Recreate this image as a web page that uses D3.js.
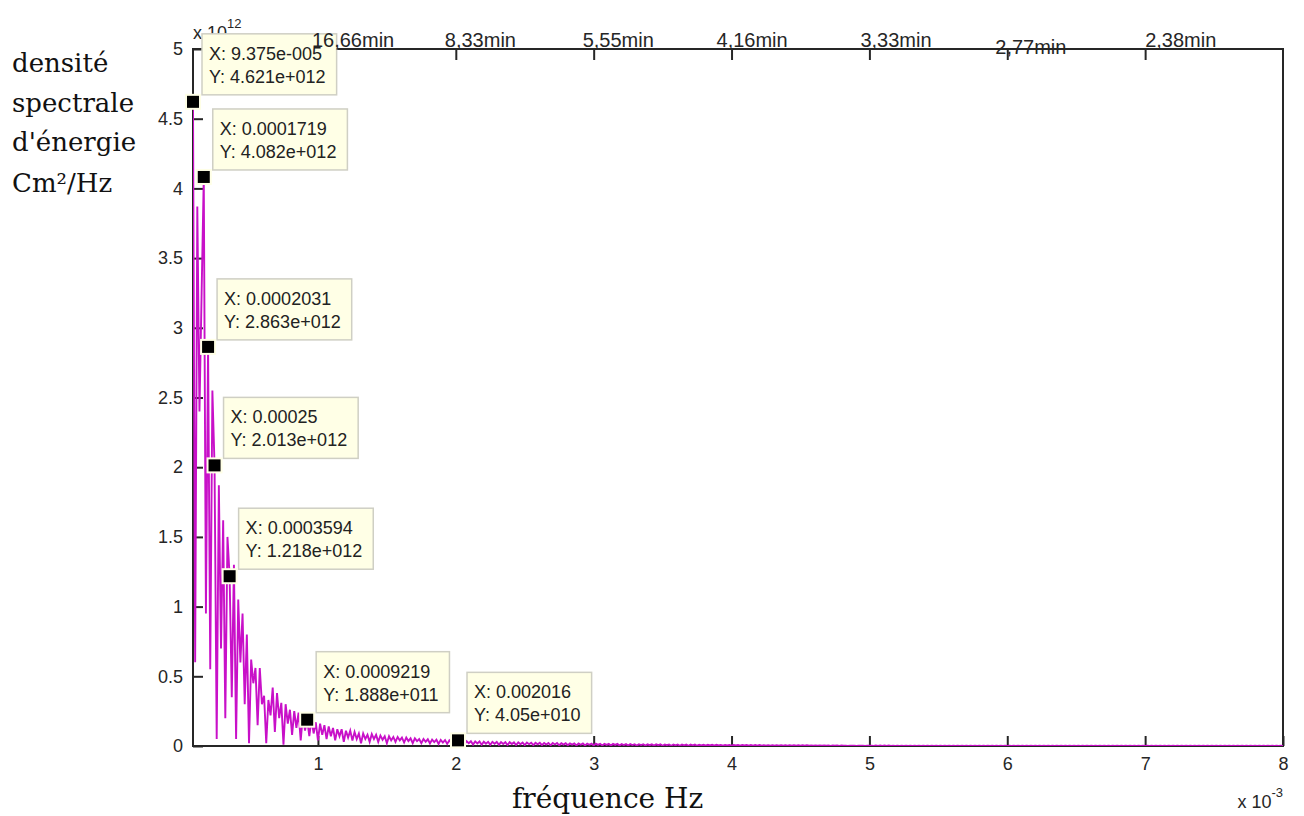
<!DOCTYPE html>
<html>
<head>
<meta charset="utf-8">
<script src="https://cdn.jsdelivr.net/npm/d3@7"></script>
<style>
    body { margin: 0; background: #fff; }
    svg { display: block; }
</style>
</head>
<body>
<div id="chart"></div>
<script>
(() => {
    // spectre : premier bin affiché = 6, pas de 1.5625e-5 Hz, valeurs en 1e12 Cm²/Hz
    let firstBin = 6;
    let binWidth = 1.5625e-5;
    let dse = [
        4.621, 0.60, 3.87, 2.40, 3.25, 4.082, 0.95, 2.863, 0.55, 2.55,
        2.013, 0.05, 1.87, 0.70, 1.62, 0.20, 1.50, 1.218, 0.35, 1.30,
        0.05, 1.05, 0.60, 0.95, 0.30, 0.80, 0.02, 0.62, 0.45, 0.56,
        0.15, 0.56, 0.30, 0.36, 0.02, 0.33, 0.22, 0.42, 0.10, 0.38,
        0.20, 0.31, 0.01, 0.30, 0.16, 0.26, 0.08, 0.25, 0.13, 0.24,
        0.04, 0.22, 0.11, 0.1888, 0.07, 0.19, 0.09, 0.17, 0.04, 0.16,
        0.08, 0.15, 0.05, 0.14, 0.07, 0.13, 0.04, 0.12, 0.07, 0.12,
        0.03, 0.11, 0.06, 0.11, 0.04, 0.10, 0.05, 0.09, 0.02, 0.09,
        0.05, 0.08, 0.03, 0.085, 0.05, 0.08, 0.03, 0.075, 0.045, 0.07,
        0.02, 0.07, 0.04, 0.065, 0.03, 0.065, 0.04, 0.06, 0.025, 0.06,
        0.035, 0.055, 0.02, 0.055, 0.035, 0.05, 0.02, 0.05, 0.03, 0.048,
        0.018, 0.046, 0.028, 0.045, 0.015, 0.044, 0.025, 0.042, 0.015, 0.041,
        0.022, 0.04, 0.012, 0.0405, 0.02, 0.036, 0.012, 0.035, 0.02, 0.034,
        0.01, 0.033, 0.018, 0.032, 0.009, 0.031, 0.017, 0.03, 0.008, 0.03,
        0.016, 0.029, 0.008, 0.028, 0.015, 0.028, 0.007, 0.027, 0.014, 0.026,
        0.007, 0.026, 0.013, 0.025, 0.006, 0.025, 0.013, 0.024, 0.006, 0.023,
        0.012, 0.023, 0.006, 0.022, 0.011, 0.022, 0.005, 0.021, 0.011, 0.021,
        0.005, 0.02, 0.01, 0.02, 0.005, 0.019, 0.01, 0.019, 0.004, 0.018,
        0.009, 0.018, 0.004, 0.017, 0.009, 0.017, 0.004, 0.017, 0.008, 0.016,
        0.004, 0.016, 0.008, 0.015, 0.003, 0.015, 0.008, 0.015, 0.003, 0.014,
        0.007, 0.014, 0.003, 0.014, 0.007, 0.013, 0.003, 0.013, 0.007, 0.013,
        0.003, 0.012, 0.006, 0.012, 0.003, 0.012, 0.006, 0.012, 0.002, 0.011,
        0.006, 0.011, 0.002, 0.011, 0.005, 0.011, 0.002, 0.01, 0.005, 0.01,
        0.002, 0.01, 0.005, 0.01, 0.002, 0.009, 0.005, 0.009, 0.002, 0.009,
        0.004, 0.009, 0.002, 0.009, 0.004, 0.008, 0.002, 0.008, 0.004, 0.008,
        0.002, 0.008, 0.004, 0.008, 0.002, 0.007, 0.004, 0.007, 0.002, 0.007,
        0.003, 0.007, 0.002, 0.007, 0.003, 0.006, 0.002, 0.006, 0.003, 0.006,
        0.002, 0.006, 0.003, 0.006, 0.002, 0.005, 0.003, 0.005, 0.002, 0.005,
        0.003, 0.005, 0.002, 0.005, 0.002, 0.005, 0.002, 0.004, 0.002, 0.004,
        0.002, 0.004, 0.002, 0.004, 0.002, 0.004, 0.001, 0.004, 0.002, 0.004,
        0.001, 0.004, 0.002, 0.003, 0.001, 0.003, 0.002, 0.003, 0.001, 0.003,
        0.002, 0.003, 0.001, 0.003, 0.002, 0.003, 0.001, 0.003, 0.001, 0.003,
        0.001, 0.003, 0.001, 0.003, 0.001, 0.002, 0.001, 0.002, 0.001, 0.002,
        0.001, 0.002, 0.001, 0.002, 0.001, 0.002, 0.001, 0.002, 0.001, 0.002,
        0.001, 0.002, 0.001, 0.002, 0.001, 0.002, 0.001, 0.002, 0.001, 0.002,
        0.001, 0.002, 0.001, 0.002, 0.001, 0.002, 0.001, 0.002, 0.001, 0.002,
        0.001, 0.002, 0.001, 0.002, 0.001, 0.002, 0.001, 0.002, 0.001, 0.002,
        0.001, 0.002, 0.001, 0.002, 0.001, 0.002, 0.001, 0.002, 0.001, 0.002,
        0.001, 0.002, 0.001, 0.002, 0.001, 0.002, 0.001, 0.002, 0.001, 0.002,
        0.001, 0.002, 0.001, 0.002, 0.001, 0.002, 0.001, 0.002, 0.001, 0.002,
        0.001, 0.002, 0.001, 0.002, 0.001, 0.002, 0.001, 0.002, 0.001, 0.002,
        0.001, 0.002, 0.001, 0.002, 0.001, 0.002, 0.001, 0.002, 0.001, 0.002,
        0.001, 0.002, 0.001, 0.002, 0.001, 0.002, 0.001, 0.002, 0.001, 0.002,
        0.001, 0.002, 0.001, 0.002, 0.001, 0.002, 0.001, 0.002, 0.001, 0.002,
        0.001, 0.002, 0.001, 0.002, 0.001, 0.002, 0.001, 0.002, 0.001, 0.002,
        0.001, 0.002, 0.001, 0.002, 0.001, 0.002, 0.001, 0.002, 0.001, 0.002,
        0.001, 0.002, 0.001, 0.002, 0.001, 0.002, 0.001, 0.002, 0.001, 0.002,
        0.001, 0.002, 0.001, 0.002, 0.001, 0.002, 0.001, 0.002, 0.001, 0.002,
        0.001, 0.002, 0.001, 0.002, 0.001, 0.002, 0.001, 0.002, 0.001, 0.002,
        0.001, 0.002, 0.001, 0.002, 0.001, 0.002, 0.001, 0.002, 0.001, 0.002,
        0.001, 0.002, 0.001, 0.002, 0.001, 0.002, 0.001
    ];

    let xTicks = [1, 2, 3, 4, 5, 6, 7, 8];              // x 1e-3 Hz
    let yTicks = [0, 0.5, 1, 1.5, 2, 2.5, 3, 3.5, 4, 4.5, 5];
    let topTicks = [1, 2, 3, 4, 5, 6, 7];
    let topLabels = ["16,66min", "8,33min", "5,55min", "4,16min", "3,33min", "2,77min", "2,38min"];

    // curseurs de données (Hz, 1e12)
    let cursorX = [9.375e-5, 1.719e-4, 2.031e-4, 2.5e-4, 3.594e-4, 9.219e-4, 2.016e-3];
    let cursorY = [4.621, 4.082, 2.863, 2.013, 1.218, 0.1888, 0.0405];
    let cursorXText = ["9.375e-005", "0.0001719", "0.0002031", "0.00025", "0.0003594", "0.0009219", "0.002016"];
    let cursorYText = ["4.621e+012", "4.082e+012", "2.863e+012", "2.013e+012", "1.218e+012", "1.888e+011", "4.05e+010"];

    let w = 1304;
    let h = 816;
    let left = 193, right = 1283, top = 49, bottom = 746;
    let ink = "#262626";
    let sans = "'Liberation Sans', Arial, sans-serif";
    let serif = "'DejaVu Serif', serif";

    let svg = d3.select("#chart")
        .append("svg")
        .attr("width", w)
        .attr("height", h);

    let x = d3.scaleLinear()
        .domain([firstBin * binWidth * 1e3, 8])
        .range([left, right]);

    let y = d3.scaleLinear()
        .domain([0, 5])
        .range([bottom, top]);

    // cadre
    svg.append("rect")
        .attr("x", left)
        .attr("y", top)
        .attr("width", right - left)
        .attr("height", bottom - top)
        .attr("fill", "none")
        .attr("stroke", ink)
        .attr("stroke-width", 2);

    let bottomAxis = d3.axisBottom(x)
        .tickValues(xTicks)
        .tickFormat(d3.format("d"))
        .tickSizeInner(-10)
        .tickSizeOuter(0)
        .tickPadding(11);

    let gx = svg.append("g")
        .attr("transform", "translate(0, " + bottom + ")")
        .call(bottomAxis);

    let leftAxis = d3.axisLeft(y)
        .tickValues(yTicks)
        .tickFormat(d => d3.format("")(d))
        .tickSizeInner(-10)
        .tickSizeOuter(0)
        .tickPadding(10);

    let gy = svg.append("g")
        .attr("transform", "translate(" + left + ", 0)")
        .call(leftAxis);

    let topAxis = d3.axisTop(x)
        .tickValues(topTicks)
        .tickFormat("")
        .tickSizeInner(-11)
        .tickSizeOuter(0);

    let gt = svg.append("g")
        .attr("transform", "translate(0, " + top + ")")
        .call(topAxis);

    [gx, gy, gt].forEach(g => {
        g.select(".domain").remove();
        g.selectAll("line").attr("stroke", ink).attr("stroke-width", 2);
        g.selectAll("text")
            .attr("fill", ink)
            .style("font-family", sans)
            .style("font-size", "18px");
    });

    // courbe
    svg.append("clipPath")
        .attr("id", "plot-clip")
        .append("rect")
        .attr("x", left)
        .attr("y", top)
        .attr("width", right - left)
        .attr("height", bottom - top);

    let line = d3.line()
        .x((d, i) => x((firstBin + i) * binWidth * 1e3))
        .y(d => y(d));

    svg.append("path")
        .datum(dse)
        .attr("clip-path", "url(#plot-clip)")
        .attr("fill", "none")
        .attr("stroke", "#c810c8")
        .attr("stroke-width", 1.9)
        .attr("stroke-linejoin", "miter")
        .attr("d", line);

    // multiplicateurs
    let expTop = svg.append("text")
        .attr("x", left)
        .attr("y", 39)
        .attr("fill", ink)
        .style("font-family", sans)
        .style("font-size", "18px");
    expTop.append("tspan").text("x 10");
    expTop.append("tspan").attr("dy", -11).style("font-size", "13px").text("12");

    let expBottom = svg.append("text")
        .attr("x", right)
        .attr("y", 808)
        .attr("text-anchor", "end")
        .attr("fill", ink)
        .style("font-family", sans)
        .style("font-size", "18px");
    expBottom.append("tspan").text("x 10");
    expBottom.append("tspan").attr("dy", -11).style("font-size", "13px").text("-3");

    // titres des axes
    let yTitle = ["densité", "spectrale", "d'énergie", "Cm²/Hz"];
    let yTitleBase = [72, 112, 151, 192];
    svg.selectAll("text.y-title")
        .data(yTitle)
        .enter()
        .append("text")
        .attr("class", "y-title")
        .attr("x", 12)
        .attr("y", (d, i) => yTitleBase[i])
        .attr("fill", "#111")
        .style("font-family", serif)
        .style("font-size", "26px")
        .text(d => d);

    svg.append("text")
        .attr("x", 512)
        .attr("y", 808)
        .attr("fill", "#111")
        .style("font-family", serif)
        .style("font-size", "28px")
        .text("fréquence Hz");

    // curseurs
    let tips = svg.selectAll("g.tip")
        .data(cursorX)
        .enter()
        .append("g")
        .attr("class", "tip")
        .attr("transform", (d, i) => "translate(" + x(d * 1e3) + ", " + y(cursorY[i]) + ")");

    tips.append("rect")
        .attr("class", "box")
        .attr("x", 9)
        .attr("y", -68)
        .attr("height", 61)
        .attr("fill", "#ffffe6")
        .attr("stroke", "#cfcfc4")
        .attr("stroke-width", 1.5);

    tips.append("text")
        .attr("x", 16)
        .attr("y", -42)
        .attr("fill", "#222")
        .style("font-family", sans)
        .style("font-size", "18px")
        .text((d, i) => "X: " + cursorXText[i]);

    tips.append("text")
        .attr("x", 16)
        .attr("y", -19)
        .attr("fill", "#222")
        .style("font-family", sans)
        .style("font-size", "18px")
        .text((d, i) => "Y: " + cursorYText[i]);

    tips.each(function () {
        let g = d3.select(this);
        let widest = 0;
        g.selectAll("text").each(function () {
            widest = Math.max(widest, this.getComputedTextLength());
        });
        g.select("rect.box").attr("width", widest + 18);
    });

    tips.append("rect")
        .attr("x", -7)
        .attr("y", -7)
        .attr("width", 14)
        .attr("height", 14)
        .attr("fill", "#000")
        .attr("stroke", "#ffffe6")
        .attr("stroke-width", 2);

    // étiquettes en minutes, placées à la main comme sur la figure (au-dessus des bulles)
    let topShift = [-6, -11, -11, -15, -9, -12, 0];
    let topDrop = [0, 0, 0, 0, 0, 7, 0];
    svg.selectAll("text.top-label")
        .data(topLabels)
        .enter()
        .append("text")
        .attr("class", "top-label")
        .attr("x", (d, i) => x(topTicks[i]) + topShift[i])
        .attr("y", (d, i) => top - 2 + topDrop[i])
        .attr("fill", ink)
        .style("font-family", sans)
        .style("font-size", "20px")
        .text(d => d);
})();
</script>
</body>
</html>
